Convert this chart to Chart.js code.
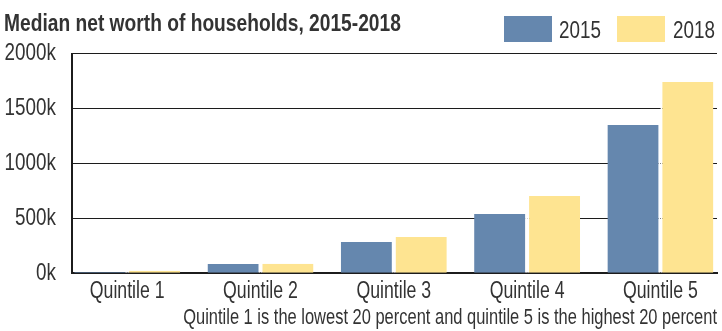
<!DOCTYPE html>
<html><head><meta charset="utf-8">
<script src="https://cdn.jsdelivr.net/npm/chart.js@4.4.1/dist/chart.umd.min.js"></script>
<style>
html,body{margin:0;padding:0;background:#fff;}
#wrap{position:relative;width:722px;height:331px;overflow:hidden;font-family:"Liberation Sans",Arial,sans-serif;color:#333;}
canvas{position:absolute;left:0;top:0;}
.narrow{position:absolute;white-space:nowrap;transform:scaleX(0.77);transform-origin:0 0;}
#title{left:4px;top:9.4px;font-weight:bold;font-size:24px;line-height:28px;transform:scaleX(0.80);}
.sw{position:absolute;top:16px;width:48px;height:26px;}
.lt{font-size:24.5px;line-height:26px;top:16.8px;}
</style></head>
<body><div id="wrap"><canvas id="c" width="722" height="331"></canvas><div id="title" class="narrow"></div><div id="legend"></div></div>
<script>
const chartTitle = "Median net worth of households, 2015-2018";
const footnote = "Quintile 1 is the lowest 20 percent and quintile 5 is the highest 20 percent";
const categories = ["Quintile 1", "Quintile 2", "Quintile 3", "Quintile 4", "Quintile 5"];
const seriesNames = ["2015", "2018"];
const values2015 = [12, 85, 285, 540, 1349];   // thousands of dollars
const values2018 = [24, 86, 330, 703, 1741];   // thousands of dollars
const yTicks = [0, 500, 1000, 1500, 2000];
const yTickLabels = ["0k", "500k", "1000k", "1500k", "2000k"];
const seriesColors = ["#6587ae", "#fee491"];

const FONT = "'Liberation Sans', Arial, sans-serif";
const NARROW = 0.77;
const TEXT = "#333333";
const LINE = "#1c1c1c";

document.getElementById('title').textContent = chartTitle;

// Condensed text rendering (Helvetica-Condensed look) for all canvas text
const narrowText = {
  id: 'narrowText',
  beforeDraw(chart) {
    const ctx = chart.ctx;
    if (ctx._narrowPatched) return;
    const orig = ctx.fillText;
    ctx.fillText = function (t, x, y, mw) {
      const w = this.measureText(t).width * NARROW;
      return orig.call(this, t, x, y, (mw !== undefined && mw !== null) ? Math.min(mw, w) : w);
    };
    ctx._narrowPatched = true;
  }
};

const chart = new Chart(document.getElementById('c'), {
  type: 'bar',
  plugins: [narrowText],
  data: {
    datasets: [
      {
        label: seriesNames[0],
        data: values2015.map((v, i) => ({ x: i, y: v })),
        backgroundColor: seriesColors[0],
        borderColor: '#ffffff',
        borderWidth: { top: 0, left: 0, bottom: 0, right: 2 },
        borderSkipped: false,
        categoryPercentage: 0.795,
        barPercentage: 1
      },
      {
        label: seriesNames[1],
        data: values2018.map((v, i) => ({ x: i, y: v })),
        backgroundColor: seriesColors[1],
        borderColor: '#ffffff',
        borderWidth: { top: 0, left: 2, bottom: 0, right: 0 },
        borderSkipped: false,
        categoryPercentage: 0.795,
        barPercentage: 1
      }
    ]
  },
  options: {
    responsive: false,
    animation: false,
    devicePixelRatio: 1,
    layout: { padding: { left: 4, right: 5, top: 53.5, bottom: 0 } },
    plugins: { legend: { display: false }, title: { display: false }, tooltip: { enabled: false } },
    scales: {
      x: {
        type: 'linear',
        min: -0.4141,
        max: 4.4246,
        offset: false,
        afterBuildTicks: s => { s.ticks = categories.map((c, i) => ({ value: i })); },
        afterFit: s => { s.height = 57.7; },
        ticks: {
          callback: v => categories[v],
          font: { family: FONT, size: 23 },
          color: TEXT,
          padding: 5,
          maxRotation: 0,
          autoSkip: false
        },
        grid: { display: false, drawTicks: false },
        border: { display: true, color: LINE, width: 2 },
        title: {
          display: true,
          text: footnote,
          align: 'end',
          font: { family: FONT, size: 21.4 },
          color: TEXT,
          padding: { top: 0, bottom: 0 }
        }
      },
      y: {
        min: 0,
        max: 2000,
        afterBuildTicks: s => { s.ticks = yTicks.map(v => ({ value: v })); },
        afterFit: s => { s.width = 68; },
        ticks: {
          callback: v => yTickLabels[yTicks.indexOf(v)],
          font: { family: FONT, size: 24.5 },
          color: TEXT,
          padding: 16
        },
        grid: { color: LINE, lineWidth: 1, drawTicks: false },
        border: { display: true, color: LINE, width: 2 }
      }
    }
  }
});

// Legend built from the chart's datasets
const legend = document.getElementById('legend');
const swatchLeft = [504, 617];
const textLeft = [559, 672.7];
chart.data.datasets.forEach((ds, i) => {
  const sw = document.createElement('div');
  sw.className = 'sw';
  sw.style.left = swatchLeft[i] + 'px';
  sw.style.background = ds.backgroundColor;
  const lt = document.createElement('div');
  lt.className = 'lt narrow';
  lt.style.left = textLeft[i] + 'px';
  lt.textContent = ds.label;
  legend.appendChild(sw);
  legend.appendChild(lt);
});
</script>
</body></html>
